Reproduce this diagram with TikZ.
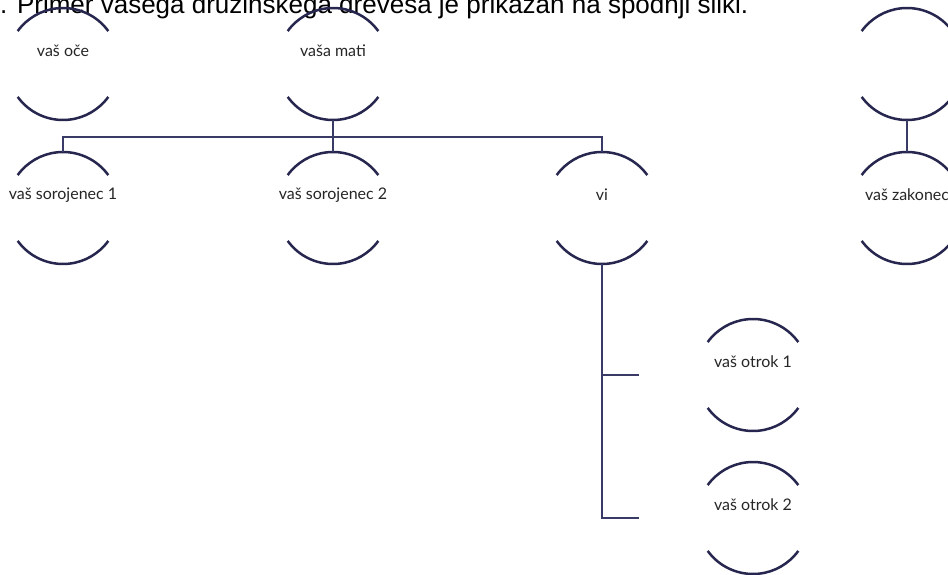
\documentclass[tikz,border=0pt]{standalone}
\usepackage{fontspec}
\setmainfont{Lato}
\newfontfamily\introfont{Liberation Sans}
\definecolor{ringblue}{HTML}{26264F}
\definecolor{linkblue}{HTML}{3A3A66}
\newcommand{\ringR}{56pt}
\newcommand{\rowTop}{510}
\newcommand{\rowMid}{366}

\begin{document}
\begin{tikzpicture}[x=1pt,y=1pt,
    person/.style={circle,minimum size=2*\ringR,inner sep=0,outer sep=0,
      label={[anchor=base,yshift=13pt,font=\fontsize{16}{18}\selectfont,text=black!85]center:#1}},
    ring/.style={draw=ringblue,line width=2.5pt},
    link/.style={draw=linkblue,line width=1.3pt}]
    \useasboundingbox (0,0) rectangle (948,574);
    \node[anchor=base west,inner sep=0,font=\introfont\fontsize{26}{30}\selectfont] (intro) at (0,560) {. Primer vašega družinskega drevesa je prikazan na spodnji sliki.};
    \node[person=vaš oče] (oce) at (63,\rowTop) {};
    \node[person=vaša mati] (mati) at (333,\rowTop) {};
    \node[person=] (tast) at (907,\rowTop) {};
    \node[person=vaš sorojenec 1] (sor1) at (63,\rowMid) {};
    \node[person=vaš sorojenec 2] (sor2) at (333,\rowMid) {};
    \node[person=vi] (vi) at (602,\rowMid) {};
    \node[person=vaš zakonec] (zakonec) at (907,\rowMid) {};
    \node[person=vaš otrok 1] (otrok1) at (753,199) {};
    \node[person=vaš otrok 2] (otrok2) at (753,56) {};
    \foreach \n in {oce,mati,tast,sor1,sor2,vi,zakonec,otrok1,otrok2} {
      \draw[ring] (\n.36) arc[start angle=36,end angle=144,radius=\ringR];
      \draw[ring] (\n.216) arc[start angle=216,end angle=324,radius=\ringR];
    }
    \draw[link] (sor1.north) -- ++(0,15) -| (vi.north);
    \draw[link] (mati.south) -- (sor2.north);
    \draw[link] (tast.south) -- (zakonec.north);
    \draw[link] (vi.south) |- ([xshift=-58pt]otrok2.west);
    \draw[link] (vi.south |- otrok1.west) -- ([xshift=-58pt]otrok1.west);
  \end{tikzpicture}
\end{document}
